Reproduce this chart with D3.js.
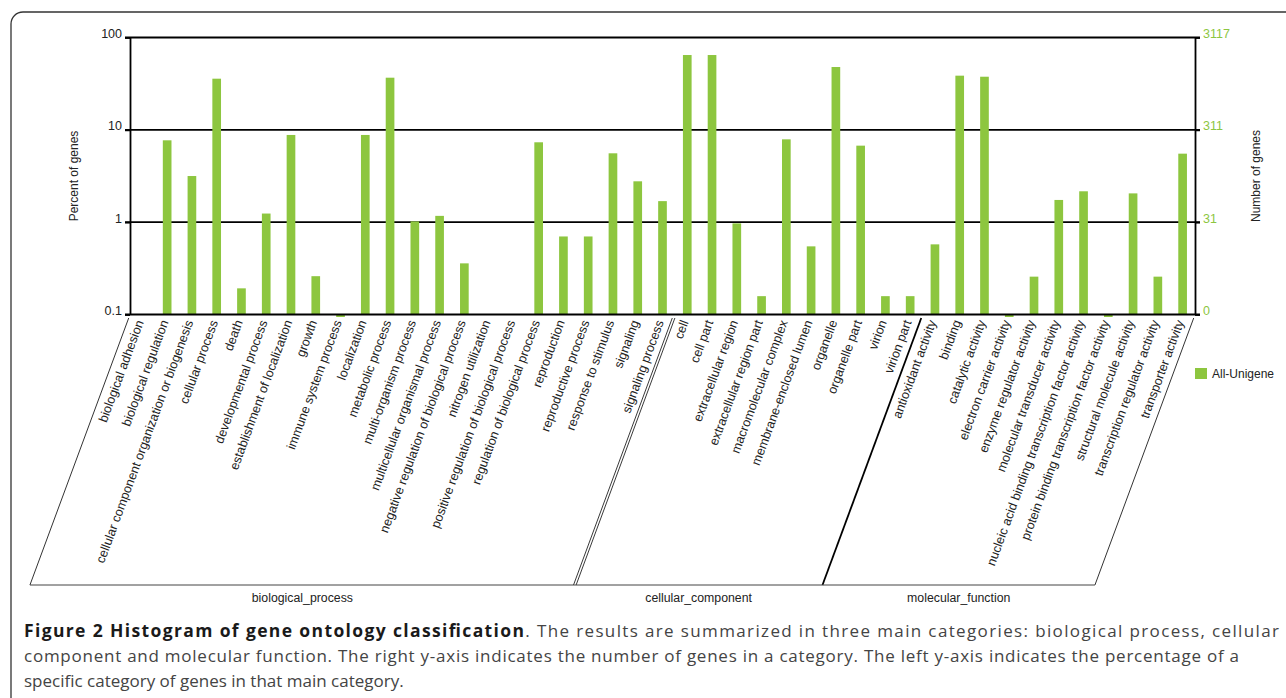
<!DOCTYPE html>
<html><head><meta charset="utf-8">
<script src="https://cdn.jsdelivr.net/npm/d3@7"></script>
<style>body{margin:0;background:#fff} svg{display:block}</style>
</head><body>
<svg id="chart" width="1286" height="698"></svg>
<script>
const categories = [
  "biological adhesion","biological regulation","cellular component organization or biogenesis","cellular process","death",
  "developmental process","establishment of localization","growth","immune system process","localization",
  "metabolic process","multi-organism process","multicellular organismal process","negative regulation of biological process","nitrogen utilization",
  "positive regulation of biological process","regulation of biological process","reproduction","reproductive process","response to stimulus",
  "signaling","signaling process",
  "cell","cell part","extracellular region","extracellular region part","macromolecular complex",
  "membrane-enclosed lumen","organelle","organelle part","virion","virion part",
  "antioxidant activity","binding","catalytic activity","electron carrier activity","enzyme regulator activity",
  "molecular transducer activity","nucleic acid binding transcription factor activity","protein binding transcription factor activity",
  "structural molecule activity","transcription regulator activity","transporter activity"
];
const percentValues = [
  null, 7.7, 3.16, 35.8, 0.192,
  1.24, 8.8, 0.26, 0.094, 8.8,
  36.7, 1.02, 1.17, 0.358, null,
  null, 7.33, 0.70, 0.70, 5.57,
  2.77, 1.69,
  64.6, 64.6, 0.97, 0.158, 7.89,
  0.547, 47.9, 6.74, 0.158, 0.158,
  0.575, 38.6, 37.6, 0.094, 0.257,
  1.74, 2.16, 0.094,
  2.05, 0.257, 5.52
];
const groupNames = ["biological_process","cellular_component","molecular_function"];
const groupSizes = [22, 10, 11];
const leftTicks = [0.1, 1, 10, 100];
const leftTickLabels = ["0.1","1","10","100"];
const rightTickLabels = ["0","31","311","3117"];
const seriesName = "All-Unigene";
const leftTitle = "Percent of genes";
const rightTitle = "Number of genes";
const captionBold = "Figure 2 Histogram of gene ontology classification";
const captionLines = [
  ". The results are summarized in three main categories: biological process, cellular",
  "component and molecular function. The right y-axis indicates the number of genes in a category. The left y-axis indicates the percentage of a",
  "specific category of genes in that main category."
];

const GREEN = "#8dc63f";
const FONT = "'Liberation Sans', Arial, sans-serif";
const FS = "12px";
const svg = d3.select("#chart");

// frame
svg.append("path")
  .attr("d", "M11,698 L11,24 A12,12 0 0 1 23,12 L1290,12")
  .attr("fill", "none").attr("stroke", "#333").attr("stroke-width", 1.3);

const x = d3.scaleBand().domain(categories).range([130, 1195]).paddingInner(0.65).paddingOuter(0.325);
const y = d3.scaleLog().domain([0.1, 100]).range([314.5, 37.5]);
const base = y(0.1);

// gridlines
svg.append("g").selectAll("line").data(leftTicks.filter(d => d > 0.1)).join("line")
  .attr("x1", 125).attr("x2", 1200)
  .attr("y1", d => y(d)).attr("y2", d => y(d))
  .attr("stroke", "#000").attr("stroke-width", 1.8);

// bars
const data = categories.map((c, i) => ({c, v: percentValues[i]})).filter(d => d.v != null);
svg.append("g").selectAll("rect").data(data).join("rect")
  .attr("x", d => x(d.c))
  .attr("width", x.bandwidth())
  .attr("y", d => Math.min(y(d.v), base))
  .attr("height", d => Math.abs(base - y(d.v)))
  .attr("fill", GREEN);

// left axis
const gl = svg.append("g").attr("transform", "translate(130,0)")
  .call(d3.axisLeft(y).tickValues(leftTicks).tickSizeInner(5).tickSizeOuter(0).tickPadding(3)
    .tickFormat(d => leftTickLabels[leftTicks.indexOf(d)]));
gl.select(".domain").attr("stroke", "#000").attr("stroke-width", 1.8);
gl.selectAll(".tick line").attr("stroke", "#000").attr("stroke-width", 1.8);
gl.selectAll(".tick text").attr("y", -4).style("font-family", FONT).style("font-size", "12.5px").attr("fill", "#222");

// right axis
const gr = svg.append("g").attr("transform", "translate(1195,0)")
  .call(d3.axisRight(y).tickValues(leftTicks).tickSizeInner(5).tickSizeOuter(0).tickPadding(3)
    .tickFormat(d => rightTickLabels[leftTicks.indexOf(d)]));
gr.select(".domain").attr("stroke", "#000").attr("stroke-width", 1.8);
gr.selectAll(".tick line").attr("stroke", "#000").attr("stroke-width", 1.8);
gr.selectAll(".tick text").attr("y", -4).style("font-family", FONT).style("font-size", "12.5px").attr("fill", GREEN);

// x axis baseline
svg.append("line").attr("x1", 125).attr("x2", 1200).attr("y1", base).attr("y2", base)
  .attr("stroke", "#000").attr("stroke-width", 1.8);

// axis titles
svg.append("text").attr("transform", "translate(78,176) rotate(-90)").attr("text-anchor", "middle")
  .style("font-family", FONT).style("font-size", FS).attr("fill", "#222").text(leftTitle);
svg.append("text").attr("transform", "translate(1260,176) rotate(-90)").attr("text-anchor", "middle")
  .style("font-family", FONT).style("font-size", FS).attr("fill", "#222").text(rightTitle);

// category labels
const ANG = 69.7;
svg.append("g").selectAll("text").data(categories).join("text")
  .attr("transform", d => `translate(${x(d) + x.bandwidth() / 2 + 1.5},322) rotate(${-ANG})`)
  .attr("text-anchor", "end")
  .style("font-family", FONT).style("font-size", "12.7px").attr("fill", "#222")
  .text(d => d);

// group brackets
const topY = 318, botY = 585;
const bx = i => x.range()[0] + i * x.step();
const cum = [0];
groupSizes.forEach(s => cum.push(cum[cum.length - 1] + s));
const sx = (i, yy) => bx(i) - (yy - base) / Math.tan(ANG * Math.PI / 180);
const gb = svg.append("g").attr("fill", "none");
[0, cum.length - 1].forEach(k => {
  gb.append("line").attr("x1", sx(cum[k], topY)).attr("y1", topY).attr("x2", sx(cum[k], botY)).attr("y2", botY)
    .attr("stroke", "#333").attr("stroke-width", 1);
});
[-1.3, 1.3].forEach(o => {
  gb.append("line").attr("x1", sx(cum[1], topY) + o).attr("y1", topY).attr("x2", sx(cum[1], botY) + o).attr("y2", botY)
    .attr("stroke", "#222").attr("stroke-width", 0.9);
});
gb.append("line").attr("x1", sx(cum[2], topY)).attr("y1", topY).attr("x2", sx(cum[2], botY)).attr("y2", botY)
  .attr("stroke", "#000").attr("stroke-width", 1.8);
gb.append("line").attr("x1", sx(0, botY)).attr("x2", sx(cum[3], botY)).attr("y1", botY).attr("y2", botY)
  .attr("stroke", "#444").attr("stroke-width", 1);
svg.append("g").selectAll("text").data(groupNames).join("text")
  .attr("x", (d, i) => (sx(cum[i], botY) + sx(cum[i + 1], botY)) / 2)
  .attr("y", 602)
  .attr("text-anchor", "middle")
  .style("font-family", FONT).style("font-size", "12.3px").attr("fill", "#222")
  .text(d => d);

// legend
svg.append("rect").attr("x", 1195).attr("y", 368).attr("width", 12).attr("height", 11).attr("fill", GREEN);
svg.append("text").attr("x", 1212).attr("y", 378)
  .style("font-family", FONT).style("font-size", FS).attr("fill", "#222").text(seriesName);

// caption
const CF = "'Open Sans', 'Noto Sans', sans-serif";
const t1 = svg.append("text").attr("x", 24).attr("y", 637)
  .attr("textLength", 1255).attr("lengthAdjust", "spacing")
  .style("font-family", CF).style("font-size", "17px");
t1.append("tspan").attr("font-weight", "bold").attr("fill", "#1a1a1a").style("font-size", "17.5px").text(captionBold);
t1.append("tspan").attr("fill", "#444").text(captionLines[0]);
svg.append("text").attr("x", 24).attr("y", 662)
  .attr("textLength", 1215).attr("lengthAdjust", "spacing")
  .style("font-family", CF).style("font-size", "17px").attr("fill", "#444").text(captionLines[1]);
svg.append("text").attr("x", 24).attr("y", 687)
  .style("font-family", CF).style("font-size", "17px").attr("fill", "#444").text(captionLines[2]);
</script>
</body></html>
